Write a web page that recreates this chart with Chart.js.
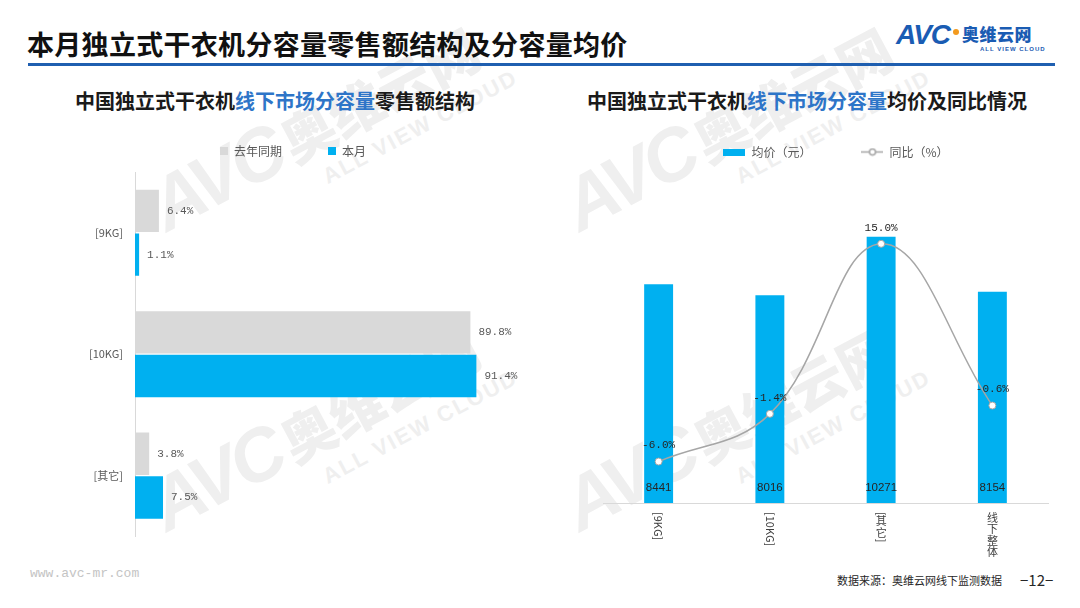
<!DOCTYPE html>
<html lang="zh-CN">
<head>
<meta charset="utf-8">
<title>本月独立式干衣机分容量零售额结构及分容量均价</title>
<script src="https://cdn.jsdelivr.net/npm/chart.js@4.4.1/dist/chart.umd.min.js"></script>
<style>
  html, body { margin: 0; padding: 0; background: #fff; }
  body { width: 1080px; height: 608px; position: relative; overflow: hidden;
         font-family: 'Noto Sans CJK SC', 'Noto Sans', sans-serif; }
  .abs { position: absolute; white-space: nowrap; }
  #title { left: 27px; top: 24px; font-size: 27px; font-weight: 700; color: #111; line-height: 40px; letter-spacing: 0.3px; }
  #rule { left: 28px; top: 63px; width: 1027px; height: 3px; background: #1f5fb0; }
  .sub { top: 86px; font-size: 20px; font-weight: 700; color: #1a1a1a; line-height: 30px; }
  .sub em { font-style: normal; color: #2e75c8; }
  #subL { left: 75px; }
  #subR { left: 587px; }
  #logoAvc { left: 896px; top: 19px; font: italic 900 28px 'Liberation Sans', sans-serif; color: #1a5cb3; letter-spacing: -1px; }
  #logoDot { left: 953px; top: 29px; width: 6px; height: 6px; border-radius: 3px; background: #f39a1e; }
  #logoCn { left: 962px; top: 22px; font-size: 17px; font-weight: 900; color: #1a5cb3; line-height: 24px; letter-spacing: 0.5px; }
  #logoEn { left: 980px; top: 46px; font: 700 6px 'Liberation Sans', sans-serif; color: #1a5cb3; letter-spacing: 1px; }
  #site { left: 30px; top: 566px; font: 13px 'Liberation Mono', monospace; color: #c4c4c4; }
  #source { left: 837px; top: 572px; font-size: 11px; color: #262626; line-height: 16px; }
  #page { left: 1020px; top: 569px; font-size: 15px; color: #262626; line-height: 22px; }
  .wm { color: #efefef; transform: rotate(-28deg); transform-origin: 0 100%; line-height: 1; }
  .wm b { font: italic 900 74px 'Liberation Sans', sans-serif; letter-spacing: -4px; }
  .wm span { font-size: 54px; font-weight: 900; margin-left: 6px; }
  .wm i { display: block; font: normal 700 22px 'Liberation Sans', sans-serif; margin-left: 165px; margin-top: -4px; letter-spacing: 2px; }
  canvas { position: absolute; }
</style>
</head>
<body>
<div class="abs wm" style="left:185px;top:160px;"><b>AVC</b><span>奥维云网</span><i>ALL VIEW CLOUD</i></div>
<div class="abs wm" style="left:598px;top:160px;"><b>AVC</b><span>奥维云网</span><i>ALL VIEW CLOUD</i></div>
<div class="abs wm" style="left:185px;top:460px;"><b>AVC</b><span>奥维云网</span><i>ALL VIEW CLOUD</i></div>
<div class="abs wm" style="left:598px;top:460px;"><b>AVC</b><span>奥维云网</span><i>ALL VIEW CLOUD</i></div>

<div id="title" class="abs">本月独立式干衣机分容量零售额结构及分容量均价</div>
<div id="rule" class="abs"></div>
<div id="logoAvc" class="abs">AVC</div>
<div id="logoDot" class="abs"></div>
<div id="logoCn" class="abs">奥维云网</div>
<div id="logoEn" class="abs">ALL VIEW CLOUD</div>

<div id="subL" class="abs sub">中国独立式干衣机<em>线下市场分容量</em>零售额结构</div>
<div id="subR" class="abs sub">中国独立式干衣机<em>线下市场分容量</em>均价及同比情况</div>

<canvas id="shareChart" width="546" height="456" style="left:20px;top:99px;"></canvas>
<canvas id="priceChart" width="476" height="469" style="left:598px;top:96px;"></canvas>

<div id="site" class="abs">www.avc-mr.com</div>
<div id="source" class="abs">数据来源：奥维云网线下监测数据</div>
<div id="page" class="abs">−12−</div>

<script>
// 左图：分容量零售额结构（%）
const capLabels = ['[9KG]', '[10KG]', '[其它]'];
const lastYearShare = [6.4, 89.8, 3.8];
const thisMonthShare = [1.1, 91.4, 7.5];

// 右图：分容量均价（元）及同比（%）
const priceLabels = ['[9KG]', '[10KG]', '[其它]', '线下整体'];
const avgPrice = [8441, 8016, 10271, 8154];
const yoyChange = [-6.0, -1.4, 15.0, -0.6];

const GREY = '#d9d9d9';
const BLUE = '#00b0f0';
const LINE = '#a6a6a6';
const CJK = "'Noto Sans CJK SC', sans-serif";

// 图例高度固定，用来控制绘图区顶部位置
function legendHeight(h) {
    return {
        id: 'legendHeight',
        beforeInit(chart) {
            const fit = chart.legend.fit;
            chart.legend.fit = function () {
                fit.call(this);
                this.height = h;
            };
        }
    };
}

// 条形右侧的百分比标签
const shareLabels = {
    id: 'shareLabels',
    afterDatasetsDraw(chart) {
        const ctx = chart.ctx;
        ctx.save();
        ctx.font = "11px 'Liberation Mono', monospace";
        ctx.fillStyle = '#595959';
        ctx.textAlign = 'left';
        ctx.textBaseline = 'middle';
        chart.data.datasets.forEach((ds, i) => {
            chart.getDatasetMeta(i).data.forEach((bar, j) => {
                ctx.fillText(ds.data[j].toFixed(1) + '%', bar.x + 8, bar.y);
            });
        });
        ctx.restore();
    }
};

// 柱内均价 + 折线上方同比
const priceLabelsPlugin = {
    id: 'priceLabels',
    afterDatasetsDraw(chart) {
        const ctx = chart.ctx;
        ctx.save();
        ctx.textAlign = 'center';
        ctx.textBaseline = 'middle';
        ctx.fillStyle = '#262626';
        ctx.font = "11.5px 'Liberation Sans', sans-serif";
        chart.getDatasetMeta(0).data.forEach((bar, i) => {
            ctx.fillText(String(avgPrice[i]), bar.x, bar.base - 15);
        });
        ctx.font = "11px 'Liberation Mono', monospace";
        chart.getDatasetMeta(1).data.forEach((pt, i) => {
            ctx.fillText(yoyChange[i].toFixed(1) + '%', pt.x, pt.y - 16);
        });
        ctx.restore();
    }
};

// 横轴竖排标签：汉字直立，其余字符顺时针旋转
const verticalTicks = {
    id: 'verticalTicks',
    afterDraw(chart) {
        const scale = chart.scales.x;
        const ctx = chart.ctx;
        ctx.save();
        ctx.font = '11px ' + CJK;
        ctx.fillStyle = '#404040';
        scale.ticks.forEach((tick, i) => {
            const x = scale.getPixelForTick(i);
            let y = scale.top + 9;
            for (const ch of chart.data.labels[i]) {
                if (/[\u4e00-\u9fff]/.test(ch)) {
                    ctx.textAlign = 'center';
                    ctx.textBaseline = 'top';
                    ctx.fillText(ch, x, y);
                    y += 11.5;
                } else {
                    const w = ctx.measureText(ch).width;
                    ctx.save();
                    ctx.translate(x, y);
                    ctx.rotate(Math.PI / 2);
                    ctx.textAlign = 'left';
                    ctx.textBaseline = 'middle';
                    ctx.fillText(ch, 0, 0);
                    ctx.restore();
                    y += w;
                }
            }
        });
        ctx.restore();
    }
};

function swatch(w, h, draw) {
    const c = document.createElement('canvas');
    c.width = w;
    c.height = h;
    draw(c.getContext('2d'));
    return c;
}
const barSwatch = swatch(22, 7, ctx => {
    ctx.fillStyle = BLUE;
    ctx.fillRect(0, 0, 22, 7);
});
const lineSwatch = swatch(22, 9, ctx => {
    ctx.strokeStyle = LINE;
    ctx.lineWidth = 1.5;
    ctx.beginPath();
    ctx.moveTo(0, 4.5);
    ctx.lineTo(22, 4.5);
    ctx.stroke();
    ctx.beginPath();
    ctx.arc(11, 4.5, 3, 0, Math.PI * 2);
    ctx.fillStyle = '#fff';
    ctx.fill();
    ctx.stroke();
});

new Chart(document.getElementById('shareChart'), {
    type: 'bar',
    data: {
        labels: capLabels,
        datasets: [
            { label: '去年同期', data: lastYearShare, backgroundColor: GREY, categoryPercentage: 0.72, barPercentage: 0.97 },
            { label: '本月', data: thisMonthShare, backgroundColor: BLUE, categoryPercentage: 0.72, barPercentage: 0.97 }
        ]
    },
    options: {
        indexAxis: 'y',
        responsive: false,
        animation: false,
        layout: { padding: { left: 57.5, right: 57.5, top: 0, bottom: 13 } },
        plugins: {
            legend: {
                labels: {
                    boxWidth: 8,
                    boxHeight: 8,
                    padding: 46,
                    color: '#595959',
                    font: { family: CJK, size: 12 }
                }
            },
            tooltip: { enabled: false }
        },
        scales: {
            x: { display: false, min: 0, max: 100 },
            y: {
                grid: { display: false, drawTicks: false },
                border: { color: GREY },
                ticks: { padding: 12, color: '#595959', font: { family: CJK, size: 11 } },
                afterFit(scale) { scale.width = 57.5; }
            }
        }
    },
    plugins: [legendHeight(73), shareLabels]
});

new Chart(document.getElementById('priceChart'), {
    type: 'bar',
    data: {
        labels: priceLabels,
        datasets: [
            {
                type: 'bar',
                label: '均价（元）',
                data: avgPrice,
                backgroundColor: BLUE,
                yAxisID: 'y',
                order: 1,
                categoryPercentage: 0.5,
                barPercentage: 0.52
            },
            {
                type: 'line',
                label: '同比（%）',
                data: yoyChange,
                yAxisID: 'y1',
                order: 0,
                borderColor: LINE,
                borderWidth: 1.5,
                tension: 0.4,
                pointRadius: 3.5,
                pointBackgroundColor: '#fff',
                pointBorderColor: LINE,
                pointBorderWidth: 1
            }
        ]
    },
    options: {
        responsive: false,
        animation: false,
        layout: { padding: { left: 0, right: 0, top: 0, bottom: 54 } },
        plugins: {
            legend: {
                labels: {
                    usePointStyle: true,
                    pointStyleWidth: 22,
                    boxHeight: 9,
                    padding: 50,
                    color: '#595959',
                    font: { family: CJK, size: 12 },
                    generateLabels(chart) {
                        return chart.data.datasets.map((ds, i) => ({
                            text: ds.label,
                            datasetIndex: i,
                            pointStyle: i === 0 ? barSwatch : lineSwatch,
                            fontColor: '#595959',
                            hidden: !chart.isDatasetVisible(i),
                            lineWidth: 0,
                            strokeStyle: 'transparent',
                            fillStyle: 'transparent'
                        }));
                    }
                }
            },
            tooltip: { enabled: false }
        },
        scales: {
            x: {
                grid: { display: false },
                border: { color: GREY },
                ticks: { display: false }
            },
            y: { display: false, min: 0, max: 12000 },
            y1: {
                position: 'right',
                min: -10,
                max: 20,
                grid: { display: false },
                border: { display: false },
                ticks: { display: false },
                afterFit(scale) { scale.width = 26; }
            }
        }
    },
    plugins: [legendHeight(96), priceLabelsPlugin, verticalTicks]
});
</script>
</body>
</html>
